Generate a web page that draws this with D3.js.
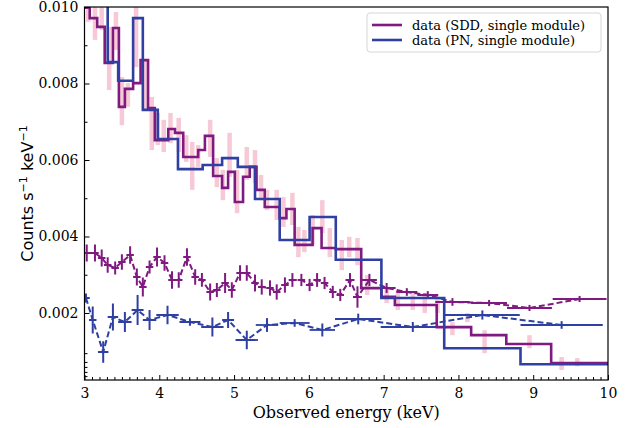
<!DOCTYPE html>
<html>
<head>
<meta charset="utf-8">
<script src="https://cdn.jsdelivr.net/npm/d3@7"></script>
<style>
  body { margin: 0; background: #fff; }
  .tick text { font-family: "DejaVu Serif", serif; font-size: 14px; fill: #000; }
  .tick line { stroke: #000; stroke-width: 1; }
</style>
</head>
<body>
<svg id="chart" width="643" height="428"></svg>
<script>
// SDD single module, rebinned step spectrum (keV edges, counts/s/keV)
const sddEdges = [3.0, 3.07, 3.17, 3.27, 3.38, 3.46, 3.54, 3.65, 3.75, 3.85, 3.94, 4.12, 4.21, 4.32,
  4.52, 4.61, 4.72, 4.84, 4.92, 5.01, 5.12, 5.21, 5.30, 5.41, 5.61, 5.70, 5.81, 6.05, 6.17, 6.36,
  6.70, 6.97, 7.15, 7.71, 8.17, 8.64, 9.24, 10.0];
const sddCounts = [0.00998, 0.00971, 0.00948, 0.00854, 0.00945, 0.00739, 0.00786, 0.00801, 0.00861,
  0.00736, 0.00652, 0.00681, 0.00671, 0.00608, 0.00626, 0.00663, 0.00558, 0.00527, 0.00569, 0.00490,
  0.00556, 0.00582, 0.00522, 0.00477, 0.00448, 0.00472, 0.00378, 0.00422, 0.00370, 0.00367, 0.00265,
  0.00242, 0.00221, 0.00163, 0.00142, 0.00119, 0.00069];

// PN single module, rebinned step spectrum
const pnEdges = [3.0, 3.31, 3.45, 3.65, 3.78, 3.98, 4.25, 4.58, 4.84, 5.05, 5.28, 5.61, 6.01, 6.36,
  6.97, 7.81, 8.83, 10.0];
const pnCounts = [0.0105, 0.00856, 0.00807, 0.00971, 0.00731, 0.00655, 0.00576, 0.00587, 0.00605,
  0.00582, 0.00498, 0.00391, 0.00451, 0.00339, 0.00239, 0.00108, 0.00066];

// fine SDD points shown as pink error bars (energy, low, high)
const fineEnergy = [3.05, 3.14, 3.23, 3.33, 3.42, 3.50, 3.58, 3.69, 3.81, 3.90, 3.98, 4.06, 4.15, 4.26,
  4.36, 4.44, 4.52, 4.68, 4.77, 4.85, 4.94, 5.04, 5.17, 5.28, 5.36, 5.44, 5.57, 5.66, 5.78, 5.86,
  5.94, 6.05, 6.18, 6.28, 6.44, 6.54, 6.65, 6.78, 7.04, 7.19, 7.39, 7.55, 7.72, 7.92, 8.12, 8.35,
  8.95, 9.38, 9.59];
const fineLow = [0.00961, 0.00914, 0.00940, 0.00783, 0.00888, 0.00691, 0.00739, 0.00843, 0.00731,
  0.00626, 0.00639, 0.00621, 0.00644, 0.00621, 0.00595, 0.00522, 0.00582, 0.00608, 0.00529, 0.00495,
  0.00556, 0.00461, 0.00548, 0.00540, 0.00495, 0.00469, 0.00443, 0.00425, 0.00430, 0.00346, 0.00359,
  0.00378, 0.00409, 0.00346, 0.00312, 0.00346, 0.00325, 0.00247, 0.00226, 0.00208, 0.00208, 0.00200,
  0.00200, 0.00142, 0.00176, 0.00095, 0.00108, 0.00051, 0.00061];
const fineHigh = [0.0102, 0.0102, 0.0102, 0.00948, 0.00987, 0.00817, 0.00801, 0.0102, 0.00861,
  0.00765, 0.00723, 0.00705, 0.00723, 0.00710, 0.00665, 0.00647, 0.00639, 0.00705, 0.00605, 0.00574,
  0.00671, 0.00574, 0.00634, 0.00626, 0.00561, 0.00522, 0.00522, 0.00503, 0.00514, 0.00425, 0.00417,
  0.00456, 0.00495, 0.00422, 0.00391, 0.00399, 0.00396, 0.00299, 0.00268, 0.00260, 0.00255, 0.00252,
  0.00242, 0.00176, 0.00200, 0.00155, 0.00142, 0.00085, 0.00082];

// SDD dashed series (energy, half width, value, error)
const sddBkgEnergy = [3.03, 3.14, 3.23, 3.31, 3.41, 3.50, 3.61, 3.70, 3.78, 3.87, 3.97, 4.07, 4.17,
  4.26, 4.37, 4.48, 4.57, 4.68, 4.77, 4.88, 4.97, 5.08, 5.17, 5.28, 5.37, 5.48, 5.57, 5.68, 5.78,
  5.90, 6.01, 6.11, 6.21, 6.32, 6.42, 6.55, 6.65, 6.81, 7.04, 7.31, 7.59, 7.92, 8.41, 8.95, 9.62];
const sddBkgWidth = [0.05, 0.05, 0.05, 0.05, 0.05, 0.05, 0.05, 0.05, 0.05, 0.05, 0.05, 0.05, 0.05,
  0.05, 0.05, 0.05, 0.05, 0.05, 0.05, 0.05, 0.05, 0.05, 0.05, 0.05, 0.05, 0.05, 0.05, 0.05, 0.05,
  0.05, 0.05, 0.05, 0.05, 0.05, 0.05, 0.06, 0.06, 0.10, 0.12, 0.14, 0.14, 0.23, 0.24, 0.30, 0.36];
const sddBkgValue = [0.003569, 0.003569, 0.003438, 0.003255, 0.003176, 0.003333, 0.003516, 0.002941,
  0.002680, 0.003203, 0.003464, 0.003307, 0.002863, 0.002863, 0.003464, 0.002941, 0.002863, 0.002549,
  0.002601, 0.002784, 0.002601, 0.003046, 0.003046, 0.002784, 0.002680, 0.002654, 0.002549, 0.002732,
  0.002863, 0.002863, 0.002732, 0.002863, 0.002784, 0.002549, 0.002471, 0.002863, 0.002418, 0.002863,
  0.002654, 0.002549, 0.002471, 0.002288, 0.002261, 0.002131, 0.002366];
const sddBkgError = [0.00022, 0.00022, 0.00022, 0.00020, 0.00017, 0.00020, 0.00023, 0.00022, 0.00025,
  0.00017, 0.00025, 0.00020, 0.00023, 0.00020, 0.00023, 0.00020, 0.00018, 0.00022, 0.00018, 0.00026,
  0.00020, 0.00020, 0.00020, 0.00022, 0.00020, 0.00020, 0.00020, 0.00020, 0.00018, 0.00016, 0.00016,
  0.00018, 0.00016, 0.00016, 0.00016, 0.00018, 0.00028, 0.00016, 0.00013, 0.00010, 0.00010, 0.00010,
  0.00008, 0.00008, 0.00008];

// PN dashed series
const pnBkgEnergy = [3.02, 3.11, 3.25, 3.38, 3.54, 3.71, 3.87, 4.11, 4.41, 4.71, 4.92, 5.17, 5.44,
  5.81, 6.18, 6.66, 7.39, 8.32, 9.38];
const pnBkgWidth = [0.05, 0.05, 0.07, 0.07, 0.09, 0.08, 0.09, 0.15, 0.14, 0.15, 0.08, 0.15, 0.15,
  0.20, 0.17, 0.31, 0.43, 0.50, 0.55];
const pnBkgValue = [0.002392, 0.001817, 0.000980, 0.001895, 0.001765, 0.002078, 0.001817, 0.001948,
  0.001765, 0.001634, 0.001817, 0.001294, 0.001686, 0.001739, 0.001556, 0.001843, 0.001634, 0.001948,
  0.001686];
const pnBkgError = [0.00012, 0.00035, 0.00028, 0.00035, 0.00026, 0.00039, 0.00026, 0.00024, 0.00010,
  0.00025, 0.00021, 0.00024, 0.00018, 0.00010, 0.00017, 0.00014, 0.00013, 0.00012, 0.00010];

const xMajor = [3, 4, 5, 6, 7, 8, 9, 10];
const yMajor = [0.002, 0.004, 0.006, 0.008, 0.010];
const yMinor = [0.00035, 0.00046, 0.00059, 0.00072, 0.00095, 0.003, 0.005, 0.007, 0.009];
const legendLabels = ['data (SDD, single module)', 'data (PN, single module)'];

const sddColor = '#7f1a80';
const pnColor = '#2f40a2';
const pinkColor = '#f3adc1';

const svg = d3.select('#chart');
const margin = { top: 7, right: 35, bottom: 48, left: 84.5 };
const width = 643 - margin.left - margin.right;
const height = 428 - margin.top - margin.bottom;

const x = d3.scaleLinear().domain([3, 10]).range([0, width]);
const y = d3.scaleLinear().domain([0.000248, 0.010]).range([height, 0]);

const g = svg.append('g')
  .attr('transform', 'translate(' + margin.left + ',' + margin.top + ')');

svg.append('defs').append('clipPath').attr('id', 'plot-clip')
  .append('rect').attr('width', width).attr('height', height);

const plot = g.append('g').attr('clip-path', 'url(#plot-clip)');

// pink error bars behind everything
plot.selectAll('line.fine')
  .data(fineEnergy.map((e, i) => ({ e: e, lo: fineLow[i], hi: fineHigh[i] })))
  .enter().append('line')
  .attr('class', 'fine')
  .attr('x1', d => x(d.e)).attr('x2', d => x(d.e))
  .attr('y1', d => y(d.lo)).attr('y2', d => y(d.hi))
  .style('stroke', pinkColor)
  .style('stroke-width', 4.5)
  .style('opacity', 0.65);

// dashed series with cross error bars
function drawBkg(energy, widths, values, errors, color, hw) {
  const pts = energy.map((e, i) => ({ e: e, w: widths[i], v: values[i], err: errors[i] }));
  const line = d3.line().x(d => x(d.e)).y(d => y(d.v));
  plot.append('path')
    .datum(pts)
    .attr('d', line)
    .style('fill', 'none')
    .style('stroke', color)
    .style('stroke-width', 2)
    .style('stroke-dasharray', '6,3');
  const crosses = plot.append('g').selectAll('g').data(pts).enter().append('g');
  crosses.append('line')
    .attr('x1', d => x(d.e - d.w)).attr('x2', d => x(d.e + d.w))
    .attr('y1', d => y(d.v)).attr('y2', d => y(d.v))
    .style('stroke', color).style('stroke-width', hw);
  crosses.append('line')
    .attr('x1', d => x(d.e)).attr('x2', d => x(d.e))
    .attr('y1', d => y(d.v - d.err)).attr('y2', d => y(d.v + d.err))
    .style('stroke', color).style('stroke-width', 2);
}

drawBkg(sddBkgEnergy, sddBkgWidth, sddBkgValue, sddBkgError, sddColor, 2);
drawBkg(pnBkgEnergy, pnBkgWidth, pnBkgValue, pnBkgError, pnColor, 1.8);

// step spectra
function drawSteps(edges, counts, color) {
  const pts = counts.map((c, i) => ({ e: edges[i], v: c }));
  pts.push({ e: edges[edges.length - 1], v: counts[counts.length - 1] });
  const step = d3.line().curve(d3.curveStepAfter).x(d => x(d.e)).y(d => y(d.v));
  plot.append('path')
    .datum(pts)
    .attr('d', step)
    .style('fill', 'none')
    .style('stroke', color)
    .style('stroke-width', 2.6);
}

drawSteps(sddEdges, sddCounts, sddColor);
drawSteps(pnEdges, pnCounts, pnColor);

// axes, ticks pointing in
g.append('g')
  .attr('transform', 'translate(0,' + height + ')')
  .call(d3.axisBottom(x).tickValues(xMajor).tickFormat(d3.format('d')).tickSizeInner(-5).tickSizeOuter(0).tickPadding(8))
  .call(a => a.select('.domain').remove());

g.append('g')
  .attr('transform', 'translate(0,' + height + ')')
  .call(d3.axisBottom(x).tickValues(d3.range(30, 101).map(d => d / 10).filter(d => !xMajor.includes(d))).tickFormat('').tickSizeInner(-3).tickSizeOuter(0))
  .call(a => a.select('.domain').remove());

g.append('g')
  .call(d3.axisLeft(y).tickValues(yMajor).tickFormat(d3.format('.3f')).tickSizeInner(-5).tickSizeOuter(0).tickPadding(6))
  .call(a => a.select('.domain').remove());

g.append('g')
  .call(d3.axisLeft(y).tickValues(yMinor).tickFormat('').tickSizeInner(-3).tickSizeOuter(0))
  .call(a => a.select('.domain').remove());

// frame
g.append('rect')
  .attr('width', width).attr('height', height)
  .style('fill', 'none').style('stroke', '#000').style('stroke-width', 1.2);

// axis labels
svg.append('text')
  .attr('x', margin.left + width / 2).attr('y', 418)
  .attr('text-anchor', 'middle')
  .style('font-family', '"DejaVu Serif", serif').style('font-size', '16px')
  .text('Observed energy (keV)');

const ylab = svg.append('text')
  .attr('transform', 'translate(33,' + (margin.top + height / 2) + ') rotate(-90)')
  .attr('text-anchor', 'middle')
  .style('font-family', '"DejaVu Sans", sans-serif').style('font-size', '16px');
ylab.append('tspan').text('Counts s');
ylab.append('tspan').attr('dy', -6).style('font-size', '11px').text('\u22121');
ylab.append('tspan').attr('dy', 6).text(' keV');
ylab.append('tspan').attr('dy', -6).style('font-size', '11px').text('\u22121');

// legend
const legend = svg.append('g').attr('transform', 'translate(367,13)');
legend.append('rect')
  .attr('width', 234).attr('height', 39).attr('rx', 3)
  .style('fill', '#fff').style('fill-opacity', 0.8)
  .style('stroke', '#d6d6d6').style('stroke-width', 1);
[sddColor, pnColor].forEach((c, i) => {
  legend.append('line')
    .attr('x1', 5).attr('x2', 35)
    .attr('y1', 12 + i * 15).attr('y2', 12 + i * 15)
    .style('stroke', c).style('stroke-width', 2.6);
  legend.append('text')
    .attr('x', 45).attr('y', 16.5 + i * 15)
    .style('font-family', '"DejaVu Serif", serif').style('font-size', '13px')
    .text(legendLabels[i]);
});
</script>
</body>
</html>
